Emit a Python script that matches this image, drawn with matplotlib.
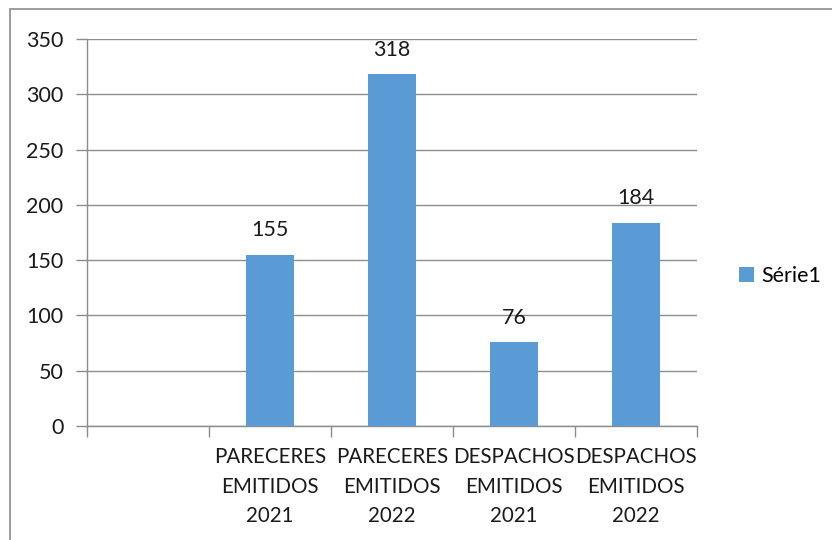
import matplotlib
matplotlib.use("Agg")
import matplotlib.pyplot as plt
from matplotlib.patches import Rectangle

categories = ["", "PARECERES\nEMITIDOS\n2021", "PARECERES\nEMITIDOS\n2022",
              "DESPACHOS\nEMITIDOS\n2021", "DESPACHOS\nEMITIDOS\n2022"]
values = [None, 155, 318, 76, 184]
series_name = "Série1"
yticks = [0, 50, 100, 150, 200, 250, 300, 350]

plt.rcParams['font.family'] = ['Lato', 'DejaVu Sans']
FS = 15.5

fig = plt.figure(figsize=(8.32, 5.4), dpi=100)
W, H = 832, 540
# outer chart border
fig.patches.append(Rectangle((10 / W, 0 - 0.01), 1.1, 1 - 9 / H + 0.01,
                             transform=fig.transFigure, fill=False,
                             edgecolor="#8c8c8c", linewidth=1.2))

ax = fig.add_axes([87 / W, 1 - 426 / H, (697 - 87) / W, (426 - 39) / H])
color = "#5B9BD5"
gray = "#8c8c8c"

for i, v in enumerate(values):
    if v is None:
        continue
    ax.bar(i, v, width=0.4, color=color, zorder=3, label=series_name if i == 1 else None)
    ax.text(i, v + 13, str(v), ha="center", va="bottom", fontsize=FS, color="#1a1a1a")

ax.set_xlim(-0.5, len(categories) - 0.5)
ax.set_ylim(0, 350)
ax.set_yticks(yticks)
ax.set_yticklabels([str(t) for t in yticks], fontsize=FS, color="#1a1a1a")
ax.yaxis.grid(True, color=gray, linewidth=1.0, zorder=0)
ax.tick_params(axis="y", length=8, color=gray, width=1.0, pad=9)

ax.set_xticks([i - 0.5 for i in range(len(categories) + 1)])
ax.set_xticklabels([])
ax.tick_params(axis="x", length=8, color=gray, width=1.0)

# category labels, one line at a time
baselines = [37, 67, 96]
for i, lab in enumerate(categories):
    if not lab:
        continue
    for line, off in zip(lab.split("\n"), baselines):
        ax.annotate(line, xy=(i, 0), xycoords=("data", "axes fraction"),
                    xytext=(0, -off), textcoords="offset pixels",
                    ha="center", va="baseline", fontsize=14.8, color="#1a1a1a",
                    annotation_clip=False)

for side in ["top", "right"]:
    ax.spines[side].set_visible(False)
for side in ["left", "bottom"]:
    ax.spines[side].set_color(gray)
    ax.spines[side].set_linewidth(1.0)

leg = fig.legend(loc="center left", bbox_to_anchor=(720 / W, 1 - 276 / H), frameon=False,
                 fontsize=FS, handlelength=0.7, handleheight=0.7, handletextpad=0.3)

fig.savefig("out.png", dpi=100)
